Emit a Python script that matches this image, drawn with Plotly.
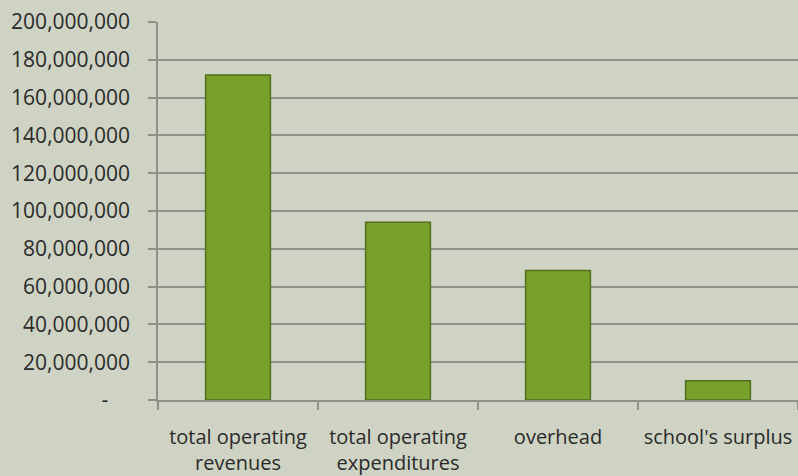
import plotly.graph_objects as go

categories = ["total operating<br>revenues", "total operating<br>expenditures", "overhead", "school's surplus"]
values = [172000000, 94000000, 68500000, 10200000]
tick_vals = [0, 20000000, 40000000, 60000000, 80000000, 100000000, 120000000, 140000000, 160000000, 180000000, 200000000]
tick_text = ["-    ", "20,000,000", "40,000,000", "60,000,000", "80,000,000", "100,000,000",
             "120,000,000", "140,000,000", "160,000,000", "180,000,000", "200,000,000"]

bg = "#CFD3C4"
grid = "#8E908A"
txt = "#2A2A2A"

fig = go.Figure()
fig.add_trace(go.Bar(
    x=categories, y=values, width=0.405,
    marker=dict(color="#78A12B", line=dict(color="#506E1C", width=1.5)),
))

fig.update_layout(
    width=798, height=476,
    paper_bgcolor=bg, plot_bgcolor=bg,
    margin=dict(l=158, r=0, t=22, b=76),
    showlegend=False,
    font=dict(family="Open Sans, Lato, sans-serif", size=20, color=txt),
)
fig.update_xaxes(
    showgrid=False, showline=True, linecolor=grid, linewidth=1.5,
    ticks="outside", ticklen=8, tickcolor=grid, tickwidth=1.5,
    tickson="boundaries", tickfont=dict(size=20, color=txt),
    ticklabelstandoff=18,
)
fig.update_yaxes(
    range=[0, 200000000], tickvals=tick_vals, ticktext=tick_text,
    showgrid=True, gridcolor=grid, gridwidth=1.5,
    showline=True, linecolor=grid, linewidth=1.5,
    ticks="outside", ticklen=8, tickcolor=grid, tickwidth=1.5,
    tickfont=dict(size=21, color=txt), zeroline=False,
    ticklabelstandoff=14,
)

fig.write_html(
    "out.html",
    config={"displayModeBar": False},
    post_script="document.body.style.margin='0';document.body.style.overflow='hidden';document.body.style.background='" + bg + "';",
)
